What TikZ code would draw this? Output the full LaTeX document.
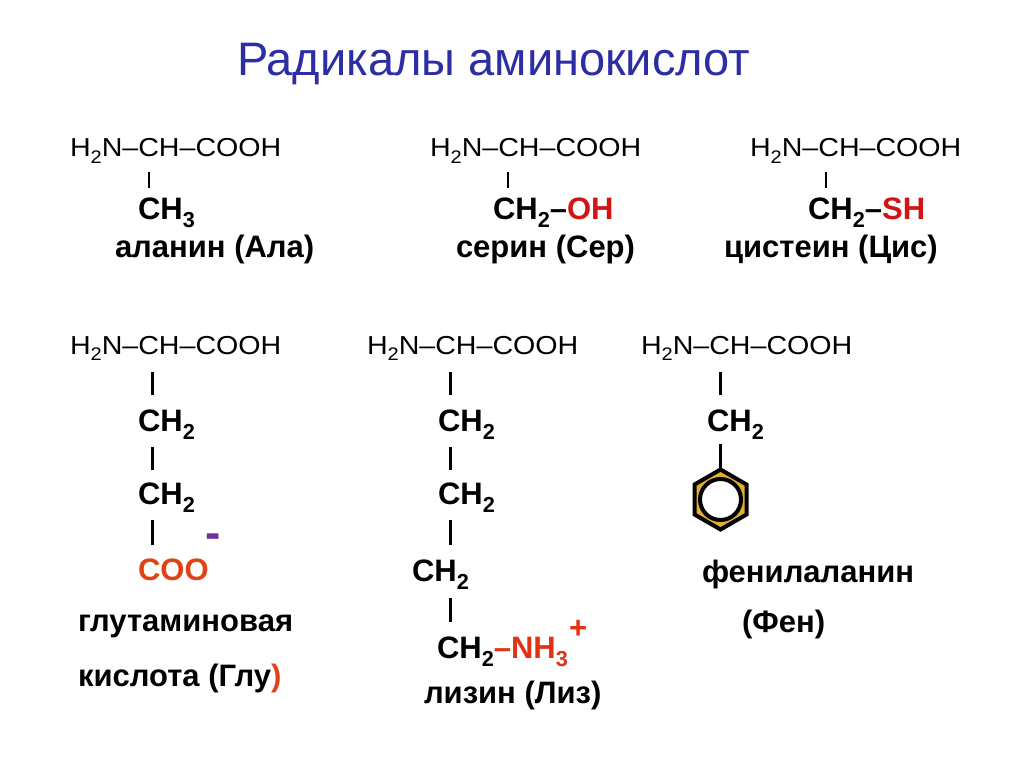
\documentclass[tikz,border=0pt]{standalone}
\usepackage{fontspec}
\setmainfont{Liberation Sans}
\usepackage{graphicx}
\definecolor{titleblue}{RGB}{45,45,165}
\definecolor{ohred}{RGB}{210,20,20}
\definecolor{cooorange}{RGB}{225,65,20}
\definecolor{nhred}{RGB}{225,50,20}
\definecolor{minuspurple}{RGB}{112,48,160}
\definecolor{ringgold}{RGB}{225,175,45}
\newcommand\lowsub[1]{\raisebox{-0.5ex}{\scalebox{0.7}{#1}}}
\newcommand\fmlbase{\scalebox{1.1}[1]{\fontsize{26}{30}\selectfont H\lowsub{2}N–CH–COOH}}
\begin{document}
\begin{tikzpicture}[x=1pt,y=-1pt,
  txt/.style={anchor=base west, inner sep=0pt, outer sep=0pt},
  bld/.style={txt, font=\fontsize{31}{37}\selectfont\bfseries},
  thinbar/.style={line width=1.2pt},
  thickbar/.style={line width=3pt}]
\useasboundingbox[fill=white] (0,0) rectangle (1024,767);

\node[txt, font=\fontsize{47}{56}\selectfont, text=titleblue] (title) at (237,76) {Радикалы аминокислот};

% ---- Row 1 ----
% alanine
\node[txt] (f1) at (70,157) {\fmlbase};
\coordinate (a1) at (149,172); \coordinate (a2) at (149,188);
\draw[thinbar] (a1) -- (a2);
\node[bld] (ala) at (138,219) {CH\lowsub{3}};
\node[bld] (alan) at (115,258) {аланин (Ала)};
% serine
\node[txt] (f2) at (430,157) {\fmlbase};
\coordinate (s1) at (508,172); \coordinate (s2) at (508,188);
\draw[thinbar] (s1) -- (s2);
\node[bld] (ser) at (493,219) {CH\lowsub{2}–\textcolor{ohred}{OH}};
\node[bld] (sern) at (456,258) {серин (Сер)};
% cysteine
\node[txt] (f3) at (750,157) {\fmlbase};
\coordinate (c1) at (826,172); \coordinate (c2) at (826,188);
\draw[thinbar] (c1) -- (c2);
\node[bld] (cys) at (808,219) {CH\lowsub{2}–\textcolor{ohred}{SH}};
\node[bld] (cysn) at (724,258) {цистеин (Цис)};

% ---- Row 2 ----
% glutamate
\node[txt] (f4) at (70,354) {\fmlbase};
\coordinate (g1) at (152,372); \coordinate (g2) at (152,395);
\draw[thickbar] (g1) -- (g2);
\node[bld] (g3) at (138,431) {CH\lowsub{2}};
\coordinate (g4) at (152,447); \coordinate (g5) at (152,470);
\draw[thickbar] (g4) -- (g5);
\node[bld] (g6) at (138,504) {CH\lowsub{2}};
\coordinate (g7) at (152,520); \coordinate (g8) at (152,545);
\draw[thickbar] (g7) -- (g8);
\node[bld, text=cooorange] (coo) at (138,580) {COO};
\node[txt, font=\fontsize{46}{50}\selectfont\bfseries, text=minuspurple] (minus) at (205,548) {-};
\node[bld] (glun1) at (78,631) {глутаминовая};
\node[bld] (glun2) at (78,686) {кислота (Глу\textcolor{cooorange}{)}};
% lysine
\node[txt] (f5) at (367,354) {\fmlbase};
\coordinate (l1) at (450,372); \coordinate (l2) at (450,395);
\draw[thickbar] (l1) -- (l2);
\node[bld] (l3) at (438,431) {CH\lowsub{2}};
\coordinate (l4) at (450,447); \coordinate (l5) at (450,470);
\draw[thickbar] (l4) -- (l5);
\node[bld] (l6) at (438,504) {CH\lowsub{2}};
\coordinate (l7) at (450,520); \coordinate (l8) at (450,545);
\draw[thickbar] (l7) -- (l8);
\node[bld] (l9) at (412,581) {CH\lowsub{2}};
\coordinate (l10) at (450,598); \coordinate (l11) at (450,622);
\draw[thickbar] (l10) -- (l11);
\node[bld] (lys) at (437,658) {CH\lowsub{2}\textcolor{nhred}{–NH\lowsub{3}}};
\node[bld, text=nhred] (plus) at (569,638) {+};
\node[bld] (lysn) at (424,703) {лизин (Лиз)};
% phenylalanine
\node[txt] (f6) at (641,354) {\fmlbase};
\coordinate (p1) at (720.5,372); \coordinate (p2) at (720.5,395);
\draw[thickbar] (p1) -- (p2);
\node[bld] (p3) at (707,431) {CH\lowsub{2}};
\coordinate (p4) at (720.5,444); \coordinate (ringtop) at (720.5,468);
\draw[thickbar] (p4) -- (ringtop);
\draw[line width=4pt, fill=ringgold, line join=miter]
  (720.5,469.5) -- (746.5,484.5) -- (746.5,514.5) -- (720.5,529.5)
  -- (694.5,514.5) -- (694.5,484.5) -- cycle;
\draw[line width=4pt, fill=white] (720.5,499.5) circle[radius=20.5];
\node[bld] (phen) at (702,582) {фенилаланин};
\node[bld] (phenn) at (742,632) {(Фен)};
\end{tikzpicture}
\end{document}
